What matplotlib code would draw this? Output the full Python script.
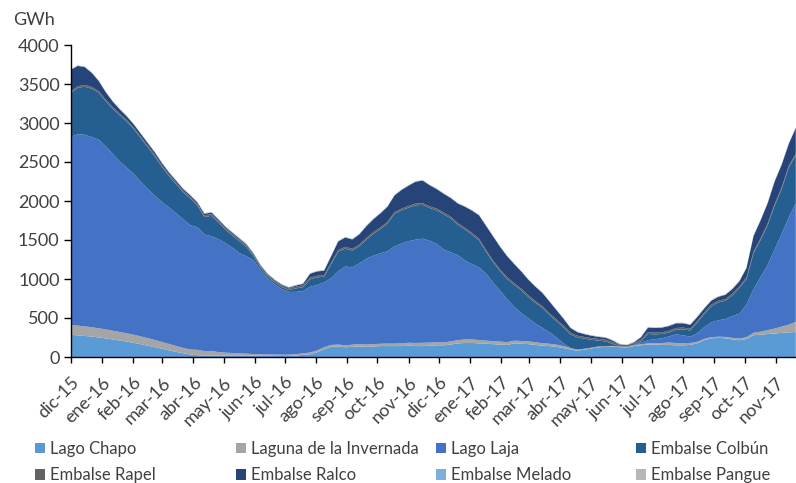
import pandas as pd
import matplotlib
matplotlib.use("Agg")
import matplotlib.pyplot as plt
from matplotlib.patches import Patch

plt.rcParams['font.family'] = ['Lato', 'DejaVu Sans']

# weekly data, GWh
dates = pd.date_range('2015-12-01', periods=104, freq='7D')

lago_chapo = [285, 278, 270, 262, 250, 238, 225, 210, 197, 180, 163, 145, 125, 105, 85, 65, 48, 32, 22, 20,
              20, 18, 18, 18, 18, 18, 18, 16, 15, 14, 13, 13, 18, 28, 35, 60, 100, 130, 135, 125,
              130, 135, 130, 135, 140, 140, 140, 140, 145, 140, 140, 145, 150, 150, 160, 175, 180, 180, 175, 170,
              165, 160, 155, 175, 170, 165, 155, 145, 140, 130, 115, 95, 80, 95, 110, 125, 130, 135, 125, 122,
              140, 150, 160, 160, 155, 155, 150, 150, 155, 175, 215, 240, 245, 240, 225, 215, 230, 280, 285, 295,
              300, 310, 315, 320]
laguna_invernada = [125, 124, 122, 120, 118, 115, 112, 110, 107, 104, 100, 96, 92, 87, 82, 75, 68, 64, 70, 55,
                    58, 45, 38, 33, 28, 25, 20, 18, 17, 17, 17, 17, 18, 20, 22, 24, 25, 25, 25, 25,
                    28, 30, 30, 30, 30, 32, 32, 35, 38, 40, 42, 40, 38, 38, 40, 42, 45, 45, 42, 40,
                    38, 38, 35, 35, 35, 35, 35, 32, 30, 28, 25, 20, 15, 12, 10, 10, 8, 8, 8, 8,
                    10, 12, 15, 18, 25, 30, 30, 28, 25, 20, 18, 15, 15, 18, 20, 22, 25, 30, 40, 50,
                    65, 80, 100, 130]
lago_laja = [2414, 2453, 2458, 2438, 2417, 2347, 2263, 2185, 2121, 2061, 1977, 1909, 1848, 1793, 1748, 1700,
             1649, 1594, 1573, 1495, 1472, 1447, 1404, 1349, 1284, 1247, 1202, 1076, 973, 899, 840, 805,
             799, 797, 843, 839, 830, 855, 940, 1010, 992, 1035, 1100, 1135, 1160, 1183, 1248, 1280,
             1302, 1325, 1335, 1305, 1262, 1192, 1140, 1088, 1015, 965, 933, 860, 752, 652, 550, 435,
             360, 295, 240, 198, 150, 92, 35, 0, 0, 0, 0, 0, 0, 0, 0, 0,
             0, 20, 40, 50, 60, 80, 110, 100, 80, 110, 150, 190, 210, 230, 280, 320,
             420, 560, 700, 835, 1015, 1190, 1375, 1520]
embalse_colbun = [556, 595, 615, 620, 600, 575, 580, 590, 590, 570, 559, 532, 500, 447, 399, 371, 343, 340, 275, 225,
                  260, 212, 169, 155, 150, 118, 48, 30, 25, 25, 25, 23, 45, 50, 95, 97, 75, 180, 250, 230,
                  215, 220, 245, 280, 310, 355, 415, 425, 430, 440, 433, 420, 430, 450, 435, 390, 395, 380, 345, 280,
                  260, 250, 260, 280, 290, 275, 265, 255, 220, 210, 205, 175, 155, 128, 100, 75, 62, 25, 5, 0,
                  5, 18, 80, 62, 55, 50, 60, 77, 80, 135, 167, 205, 230, 232, 265, 328,
                  325, 460, 475, 510, 560, 575, 640, 615]
embalse_rapel = [22] * 104
embalse_ralco = [280, 260, 230, 180, 130, 95, 70, 55, 45, 40, 36, 33, 30, 28, 26, 24, 22, 20, 20, 20,
                 20, 18, 16, 15, 15, 12, 12, 10, 10, 10, 10, 10, 15, 20, 50, 55, 55, 80, 110, 120,
                 120, 130, 150, 165, 180, 195, 215, 240, 260, 280, 290, 270, 250, 240, 240, 250, 270, 285, 300, 310,
                 310, 290, 270, 245, 220, 200, 185, 170, 150, 120, 90, 60, 45, 35, 30, 25, 25, 20, 2, 0,
                 10, 30, 60, 60, 60, 60, 60, 55, 50, 50, 50, 50, 50, 55, 60, 65,
                 120, 200, 230, 260, 290, 290, 280, 330]
embalse_melado = [5] * 104
embalse_pangue = [3] * 104

names = ['Lago Chapo', 'Laguna de la Invernada', 'Lago Laja', 'Embalse Colbún',
         'Embalse Rapel', 'Embalse Ralco', 'Embalse Melado', 'Embalse Pangue']
colors = ['#5B9BD5', '#A5A5A5', '#4472C4', '#255E91',
          '#636363', '#264478', '#7CAFDD', '#B7B7B7']
series = [lago_chapo, laguna_invernada, lago_laja, embalse_colbun,
          embalse_rapel, embalse_ralco, embalse_melado, embalse_pangue]

month_ticks = pd.date_range('2015-12-01', '2017-11-01', freq='MS')
month_labels = ['dic-15', 'ene-16', 'feb-16', 'mar-16', 'abr-16', 'may-16', 'jun-16', 'jul-16',
                'ago-16', 'sep-16', 'oct-16', 'nov-16', 'dic-16', 'ene-17', 'feb-17', 'mar-17',
                'abr-17', 'may-17', 'jun-17', 'jul-17', 'ago-17', 'sep-17', 'oct-17', 'nov-17']

txt = '#404040'
W, H = 796, 483
fig = plt.figure(figsize=(W / 100, H / 100), dpi=100)
ax = fig.add_axes([70.7 / W, 126 / H, 725.1 / W, 312 / H])

ax.stackplot(dates, *series, colors=colors, linewidth=0.4)

ax.set_xlim(dates[0], dates[-1])
ax.set_ylim(0, 4000)
ax.set_yticks(range(0, 4001, 500))
ax.set_xticks(month_ticks)
ax.set_xticklabels(month_labels, rotation=45, ha='right', va='top', rotation_mode='anchor')
ax.tick_params(axis='y', labelsize=13, labelcolor=txt, length=5, width=1, pad=3)
ax.tick_params(axis='x', labelsize=13, labelcolor=txt, length=4, width=1, pad=8.5)
for s in ['top', 'right']:
    ax.spines[s].set_visible(False)
for s in ['left', 'bottom']:
    ax.spines[s].set_color('black')
    ax.spines[s].set_linewidth(1)

fig.text(13 / W, 1 - 20 / H, 'GWh', fontsize=13, color=txt, ha='left', va='center')

# legend: 4 columns x 2 rows, equal column width like Excel
handles = [Patch(facecolor=c, edgecolor='none') for c in colors]
col_x = [35, 236, 436, 636]
for j in range(4):
    fig.legend(handles=[handles[j], handles[j + 4]], labels=[names[j], names[j + 4]],
               loc='upper left', bbox_to_anchor=(col_x[j] / W, 1 - 441 / H),
               frameon=False, fontsize=12, labelcolor=txt, borderpad=0, borderaxespad=0,
               handlelength=0.6, handleheight=0.6, handletextpad=0.3, labelspacing=0.62)

plt.savefig('out.png', dpi=100)
